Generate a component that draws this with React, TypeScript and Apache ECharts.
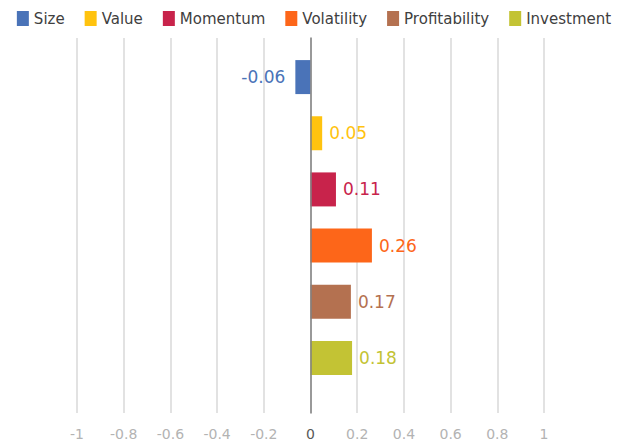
import React, { useEffect, useRef } from "react";
import * as echarts from "echarts";

const seriesNames = ["Size", "Value", "Momentum", "Volatility", "Profitability", "Investment"];
const seriesValues = [-0.0649, 0.05, 0.109, 0.263, 0.173, 0.178];
const seriesColors = ["#4a73b8", "#ffc30f", "#c8234b", "#fd6619", "#b47150", "#c3c334"];
const xTicks = { min: -1, max: 1, interval: 0.2 };

export default function App() {
  const ref = useRef<HTMLDivElement>(null);
  useEffect(() => {
    document.body.style.margin = "0";
    const chart = echarts.init(ref.current!, null, { renderer: "svg" });
    const series = seriesNames.map((name, i) => ({
      name,
      type: "bar",
      xAxisIndex: 1,
      yAxisIndex: 1,
      stack: "all",
      barWidth: 34,
      itemStyle: { color: seriesColors[i] },
      data: seriesNames.map((_, j) =>
        j === i
          ? {
              value: seriesValues[i],
              label: {
                show: true,
                position: seriesValues[i] < 0 ? "left" : "right",
                distance: seriesValues[i] < 0 ? 10 : 7,
                color: seriesColors[i],
                fontSize: 17,
                formatter: (p: any) => Number(p.value).toFixed(2),
              },
            }
          : null
      ),
    }));
    chart.setOption({
      animation: false,
      textStyle: { fontFamily: "DejaVu Sans" },
      legend: {
        top: 6,
        left: "center",
        itemWidth: 12,
        itemHeight: 15,
        itemGap: 20,
        icon: "rect",
        textStyle: { fontSize: 15, color: "#404040", fontFamily: "DejaVu Sans" },
        data: seriesNames,
      },
      grid: [
        { left: 77, right: 84, top: 38, bottom: 31 },
        { left: 77, right: 84, top: 49, height: 337 },
      ],
      xAxis: [
        {
          gridIndex: 0,
          type: "value",
          min: xTicks.min,
          max: xTicks.max,
          interval: xTicks.interval,
          axisLine: { show: false },
          axisTick: { show: false },
          splitLine: { show: true, lineStyle: { color: "#d9d9d9", width: 1.5 } },
          axisLabel: {
            margin: 14,
            fontSize: 14,
            fontFamily: "DejaVu Sans",
            color: (v: any) => (Math.abs(Number(v)) < 1e-9 ? "#595959" : "#b3b3b3"),
            formatter: (v: number) => String(Math.round(v * 10) / 10),
          },
        },
        {
          gridIndex: 1,
          type: "value",
          min: xTicks.min,
          max: xTicks.max,
          show: false,
          splitLine: { show: false },
        },
      ],
      yAxis: [
        {
          gridIndex: 0,
          type: "value",
          min: 0,
          max: 1,
          z: 5,
          axisLine: { show: true, onZero: true, lineStyle: { color: "#808080", width: 1.5 } },
          axisTick: { show: false },
          axisLabel: { show: false },
          splitLine: { show: false },
        },
        {
          gridIndex: 1,
          type: "category",
          inverse: true,
          data: seriesNames,
          show: false,
        },
      ],
      series,
    });
    return () => chart.dispose();
  }, []);
  return <div ref={ref} style={{ width: 628, height: 444 }} />;
}
